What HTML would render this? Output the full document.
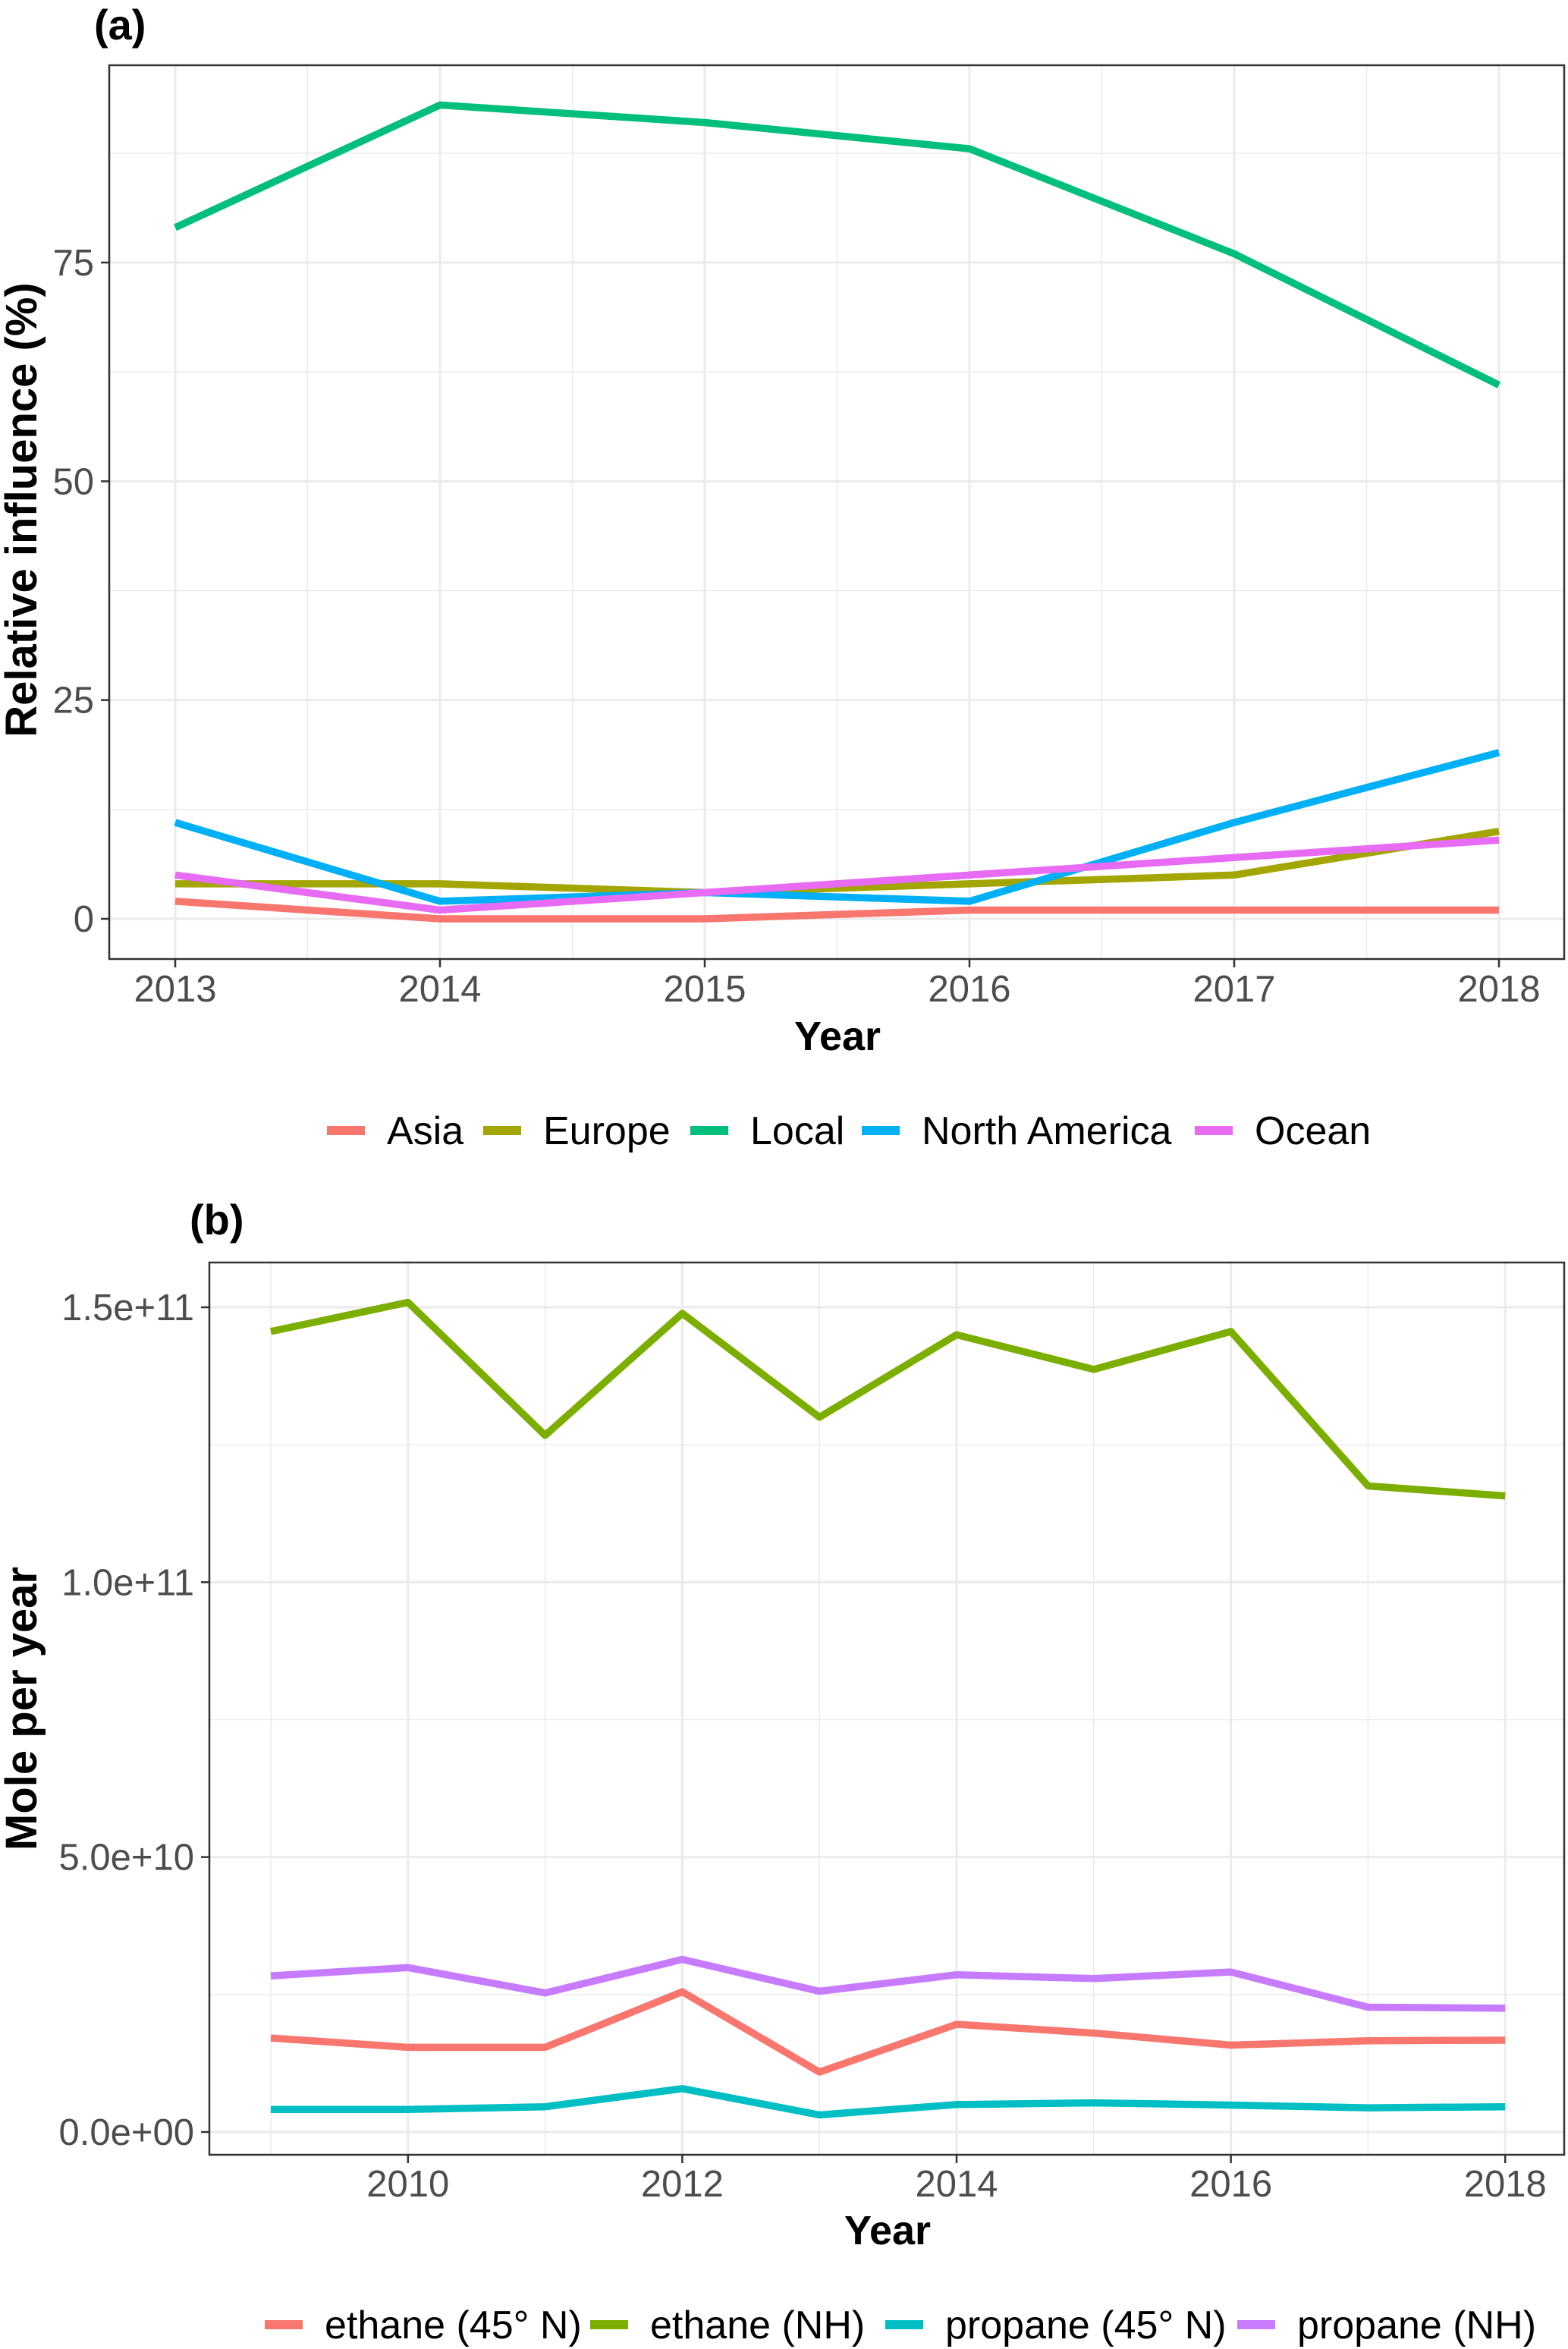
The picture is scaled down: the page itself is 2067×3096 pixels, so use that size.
<!DOCTYPE html>
<html><head><meta charset="utf-8"><style>
html,body{margin:0;padding:0;background:#fff;}
svg{display:block;font-family:"Liberation Sans",Arial,sans-serif;}
</style></head><body>
<svg id="fig" width="2067" height="3096" viewBox="0 0 2067 3096" xmlns="http://www.w3.org/2000/svg"></svg>
<script>
// Panel (a) data
const yearsA = [2013, 2014, 2015, 2016, 2017, 2018];
const asiaVals = [2, 0, 0, 1, 1, 1];
const europeVals = [4, 4, 3, 4, 5, 10];
const localVals = [79, 93, 91, 88, 76, 61];
const northAmericaVals = [11, 2, 3, 2, 11, 19];
const oceanVals = [5, 1, 3, 5, 7, 9];
const seriesNamesA = ["Asia", "Europe", "Local", "North America", "Ocean"];
const yTicksA = [0, 25, 50, 75];
const yTickLabelsA = ["0", "25", "50", "75"];
const xTicksA = [2013, 2014, 2015, 2016, 2017, 2018];

// Panel (b) data (units of 1e10 mole per year)
const yearsB = [2009, 2010, 2011, 2012, 2013, 2014, 2015, 2016, 2017, 2018];
const ethane45Vals = [1.71, 1.54, 1.54, 2.55, 1.09, 1.96, 1.80, 1.58, 1.66, 1.67];
const ethaneNHVals = [14.56, 15.09, 12.67, 14.89, 13.0, 14.5, 13.87, 14.56, 11.75, 11.57];
const propane45Vals = [0.41, 0.41, 0.46, 0.79, 0.31, 0.50, 0.53, 0.49, 0.44, 0.46];
const propaneNHVals = [2.84, 2.99, 2.53, 3.14, 2.56, 2.86, 2.79, 2.91, 2.27, 2.25];
const seriesNamesB = ["ethane (45° N)", "ethane (NH)", "propane (45° N)", "propane (NH)"];
const yTicksB = [0, 5, 10, 15];
const yTickLabelsB = ["0.0e+00", "5.0e+10", "1.0e+11", "1.5e+11"];
const xTicksB = [2010, 2012, 2014, 2016, 2018];

const NS = "http://www.w3.org/2000/svg";
const svg = document.getElementById("fig");
function mk(tag, attrs, parent) {
  const e = document.createElementNS(NS, tag);
  for (const k in attrs) e.setAttribute(k, attrs[k]);
  (parent || svg).appendChild(e);
  return e;
}
function txt(str, attrs, parent) { const t = mk("text", attrs, parent); t.textContent = str; return t; }

function panel(cfg) {
  const g = mk("g", {});
  
  
  const L = cfg.left, R = cfg.right, T = cfg.top, B = cfg.bottom;
  const xs = v => cfg.x0px + (v - cfg.x0) * cfg.xPer;
  const ys = v => cfg.y0px - (v - cfg.y0) * cfg.yPer;
  for (const v of cfg.yMinor) { const l = mk("line", {x1:L, x2:R, y1:ys(v), y2:ys(v), stroke:"#ebebeb", "stroke-width":1.5}, g);   }
  for (const v of cfg.xMinor) { const l = mk("line", {x1:xs(v), x2:xs(v), y1:T, y2:B, stroke:"#ebebeb", "stroke-width":1.5}, g);   }
  cfg.yTicks.forEach((v, i) => {
    const l = mk("line", {x1:L, x2:R, y1:ys(v), y2:ys(v), stroke:"#ebebeb", "stroke-width":3}, g);
     
    const tk = mk("line", {x1:L-11, x2:L, y1:ys(v), y2:ys(v), stroke:"#333", "stroke-width":2.5}, g);
     
    const t = txt(cfg.yLabels[i], {x:L-20, y:ys(v)+17, "text-anchor":"end", "font-size":49, fill:"#4d4d4d"}, g);
     
  });
  cfg.xTicks.forEach(v => {
    const l = mk("line", {x1:xs(v), x2:xs(v), y1:T, y2:B, stroke:"#ebebeb", "stroke-width":3}, g);
     
    const tk = mk("line", {x1:xs(v), x2:xs(v), y1:B, y2:B+11, stroke:"#333", "stroke-width":2.5}, g);
     
    const t = txt(String(v), {x:xs(v), y:cfg.xLabelY, "text-anchor":"middle", "font-size":49, fill:"#4d4d4d"}, g);
     
  });
  cfg.series.forEach(s => {
    const pts = s.vals.map((v, i) => xs(cfg.xs[i]).toFixed(1) + "," + ys(v).toFixed(1)).join(" ");
    const p = mk("polyline", {points:pts, fill:"none", stroke:s.color, "stroke-width":9.5, "stroke-linejoin":"round"}, g);
    
    
  });
  const border = mk("rect", {x:L, y:T, width:R-L, height:B-T, fill:"none", stroke:"#333", "stroke-width":2.5}, g);
   
  const xt = txt("Year", {x:cfg.xTitleX, y:cfg.xTitleY, "text-anchor":"middle", "font-size":54, "font-weight":"bold", fill:"#000"}, g);
   
  const yt = txt(cfg.yTitle, {x:0, y:0, "text-anchor":"middle", "font-size":58, "font-weight":"bold", fill:"#000", transform:`translate(${cfg.yTitleX},${cfg.yTitleY}) rotate(-90)`}, g);
   
  const tag = txt(cfg.tag, {x:cfg.tagX, y:cfg.tagY, "font-size":56, "font-weight":"bold", fill:"#000"}, g);
   
  const lg = mk("g", {}, g);
   
  cfg.series.forEach((s, i) => {
    const e = mk("g", {}, lg);
     
    const k = mk("line", {x1:cfg.legendKeys[i], x2:cfg.legendKeys[i]+50, y1:cfg.legendY, y2:cfg.legendY, stroke:s.color, "stroke-width":12}, e);
     
    const t = txt(s.label, {x:cfg.legendKeys[i]+79, y:cfg.legendY+18, "font-size":52, fill:"#000"}, e);
     
  });
}

panel({
  name:"panel-a", tag:"(a)", tagX:124, tagY:52,
  left:144, right:2062, top:86, bottom:1264,
  x0:2013, x0px:231, xPer:349, y0:0, y0px:1211, yPer:(1211-346)/75,
  yTicks:yTicksA, yLabels:yTickLabelsA, yMinor:[12.5, 37.5, 62.5, 87.5],
  xTicks:xTicksA, xMinor:[2013.5, 2014.5, 2015.5, 2016.5, 2017.5],
  xLabelY:1320, xTitleX:1104, xTitleY:1384, yTitle:"Relative influence (%)", yTitleX:48, yTitleY:672,
  xs:yearsA,
  series:[
    {id:"line-asia", label:seriesNamesA[0], vals:asiaVals, color:"#F8766D"},
    {id:"line-europe", label:seriesNamesA[1], vals:europeVals, color:"#A3A500"},
    {id:"line-local", label:seriesNamesA[2], vals:localVals, color:"#00BF7D"},
    {id:"line-north-america", label:seriesNamesA[3], vals:northAmericaVals, color:"#00B0F6"},
    {id:"line-ocean", label:seriesNamesA[4], vals:oceanVals, color:"#E76BF3"}
  ],
  legendKeys:[431, 637, 910, 1136, 1575], legendY:1490
});

panel({
  name:"panel-b", tag:"(b)", tagX:250, tagY:1627,
  left:276, right:2062, top:1664, bottom:2840,
  x0:2009, x0px:357, xPer:180.8, y0:0, y0px:2810, yPer:(2810-1723)/15,
  yTicks:yTicksB, yLabels:yTickLabelsB, yMinor:[2.5, 7.5, 12.5],
  xTicks:xTicksB, xMinor:[2009, 2011, 2013, 2015, 2017],
  xLabelY:2895, xTitleX:1170, xTitleY:2958, yTitle:"Mole per year", yTitleX:48, yTitleY:2252,
  xs:yearsB,
  series:[
    {id:"line-ethane-45n", label:seriesNamesB[0], vals:ethane45Vals, color:"#F8766D"},
    {id:"line-ethane-nh", label:seriesNamesB[1], vals:ethaneNHVals, color:"#7CAE00"},
    {id:"line-propane-45n", label:seriesNamesB[2], vals:propane45Vals, color:"#00BFC4"},
    {id:"line-propane-nh", label:seriesNamesB[3], vals:propaneNHVals, color:"#C77CFF"}
  ],
  legendKeys:[349, 778, 1167, 1631], legendY:3064
});
</script>
</body></html>
